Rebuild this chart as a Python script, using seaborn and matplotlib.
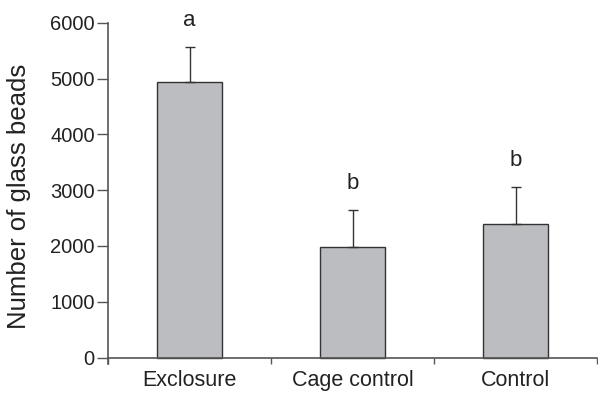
import matplotlib
matplotlib.use("Agg")
import matplotlib.pyplot as plt
import seaborn as sns
import pandas as pd

# Values
treatments = ["Exclosure", "Cage control", "Control"]
mean_beads = [4930, 1975, 2395]
se_beads = [640, 670, 660]
letters = ["a", "b", "b"]

sns.set_style("white")
plt.rcParams['font.family'] = ['Liberation Sans', 'DejaVu Sans']
plt.rcParams['font.size'] = 12

df = pd.DataFrame({"treatment": treatments, "beads": mean_beads})

fig = plt.figure(figsize=(5.98, 3.93), dpi=100)
ax = fig.add_axes([0.1806, 0.0743, 0.818, 0.868])

sns.barplot(data=df, x="treatment", y="beads", color="#bcbdc1",
            edgecolor="#333333", linewidth=1.0, width=0.4, saturation=1,
            errorbar=None, ax=ax)

# upper-only error bars
ax.errorbar(range(len(treatments)), mean_beads, yerr=[[0] * 3, se_beads],
            fmt="none", ecolor="#333333", elinewidth=1.0, capsize=3.5,
            capthick=1.0, zorder=1)

for i, (m, s, lab) in enumerate(zip(mean_beads, se_beads, letters)):
    ax.annotate(lab, xy=(i, m + s), xytext=(0, 15), textcoords="offset points",
                ha="center", va="baseline", fontsize=16, color="#222222",
                annotation_clip=False)

ax.set_xlim(-0.5, 2.5)
ax.set_ylim(-110, 6000)
ax.set_yticks(range(0, 6001, 1000))
ax.set_xticks([-0.5, 0.5, 1.5, 2.5], minor=False)
ax.set_xticks([0, 1, 2], minor=True)
ax.set_xticklabels([])
ax.set_xticklabels(treatments, minor=True)
ax.tick_params(axis="x", which="major", direction="out", length=4.5,
               width=1.0, color="#555555", bottom=True)
ax.tick_params(axis="x", which="minor", length=0, pad=9, labelsize=15.5,
               labelcolor="#222222")
ax.tick_params(axis="y", direction="out", length=8, width=1.0,
               color="#555555", pad=1.5, labelsize=14.5, labelcolor="#222222",
               left=True)

ax.spines["bottom"].set_position(("data", 0))
for sp in ["top", "right"]:
    ax.spines[sp].set_visible(False)
for sp in ["left", "bottom"]:
    ax.spines[sp].set_color("#555555")
    ax.spines[sp].set_linewidth(1.2)

ax.set_xlabel("")
ax.set_ylabel("Number of glass beads", fontsize=18.5, color="#222222")
ax.yaxis.set_label_coords(-0.158, 0.49)

fig.savefig("out.png", dpi=100)
